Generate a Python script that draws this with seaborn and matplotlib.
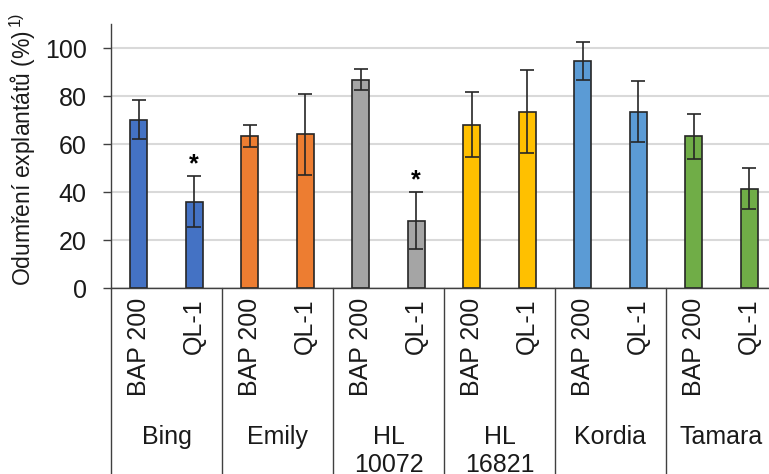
"""
Explant mortality bar chart (BAP 200 vs QL-1) per cultivar.
"""
import pandas as pd
import matplotlib
matplotlib.use("Agg")
import matplotlib.pyplot as plt
import matplotlib.transforms as mtransforms
import seaborn as sns

# Data
cultivars = ["Bing", "Emily", "HL\n10072", "HL\n16821", "Kordia", "Tamara"]
treatments = ["BAP 200", "QL-1"]
mortality = [70.2, 36.0, 63.3, 64.0, 86.8, 28.1, 68.0, 73.5, 94.4, 73.5, 63.3, 41.4]
errors = [8.3, 10.5, 4.7, 17.0, 4.5, 11.9, 13.6, 17.2, 7.9, 12.6, 9.4, 8.4]
significant = [False, True, False, False, False, True, False, False, False, False, False, False]
cultivar_colors = ["#4472C4", "#ED7D31", "#A5A5A5", "#FFC000", "#5B9BD5", "#70AD47"]

sns.set_theme(style="white")
plt.rcParams["font.family"] = ["Liberation Sans", "DejaVu Sans"]
plt.rcParams["mathtext.fontset"] = "custom"
plt.rcParams["mathtext.rm"] = "Liberation Sans"
plt.rcParams["mathtext.it"] = "Liberation Sans"

rows = []
for i, cv in enumerate(cultivars):
    for j, tr in enumerate(treatments):
        rows.append({"bar": f"{cv}|{tr}", "cultivar": cv, "treatment": tr,
                     "value": mortality[2 * i + j], "color": cultivar_colors[i]})
df = pd.DataFrame(rows)

fig = plt.figure(figsize=(7.69, 4.74), dpi=100)
ax = fig.add_axes([111 / 769, 1 - 288 / 474, 666 / 769, 264 / 474])

sns.barplot(data=df, x="bar", y="value", hue="bar", palette=list(df["color"]),
            saturation=1, legend=False, width=0.315, edgecolor="#262626",
            linewidth=1.2, ax=ax)
ax.errorbar(range(len(df)), df["value"], yerr=errors, fmt="none",
            ecolor="#262626", elinewidth=1.2, capsize=5, capthick=1.2, zorder=4)

# significance marks
for i, sig in enumerate(significant):
    if sig:
        ax.text(i, mortality[i] + errors[i] + 2.0, "*", ha="center", va="baseline",
                fontsize=18, fontweight="bold", color="#000000")

ax.set_ylim(0, 110)
ax.set_xlim(-0.5, len(df) - 0.5)
ax.set_yticks(range(0, 101, 20))
ax.yaxis.grid(True, color="#D9D9D9", linewidth=1.5)
ax.set_axisbelow(True)
ax.tick_params(axis="y", left=True, length=5.5, width=1, color="#404040",
               pad=12, labelsize=18, labelcolor="#1a1a1a")
ax.tick_params(axis="x", bottom=False, labelbottom=False)
ax.set_xlabel("")
ax.set_ylabel("")
for side in ["top", "right"]:
    ax.spines[side].set_visible(False)
for side in ["left", "bottom"]:
    ax.spines[side].set_color("#404040")
    ax.spines[side].set_linewidth(1.0)

# multi-level category axis
trans = mtransforms.blended_transform_factory(ax.transData, ax.transAxes)
for k in range(len(cultivars) + 1):
    xb = 2 * k - 0.5
    ax.plot([xb, xb], [0, -0.72], transform=trans, color="#404040",
            linewidth=1.0, clip_on=False)
for i, row in df.iterrows():
    ax.text(i, -0.038, row["treatment"], transform=trans, rotation=90,
            ha="center", va="top", fontsize=18, color="#1a1a1a")
for k, cv in enumerate(cultivars):
    ax.text(2 * k + 0.5, -0.519, cv, transform=trans, ha="center", va="top",
            fontsize=18, color="#1a1a1a", linespacing=1.2)

fig.text(23 / 769, 1 - 149 / 474, "Odumření explantátů (%)$^{\\,1)}$", rotation=90,
         ha="center", va="center", fontsize=16.5, color="#1a1a1a")

fig.savefig("out.png", dpi=100)
plt.close(fig)
